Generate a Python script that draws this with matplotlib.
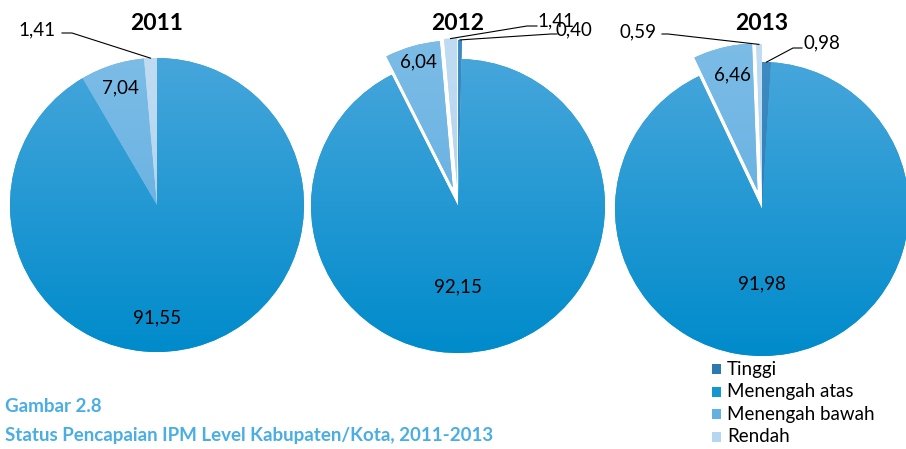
import numpy as np
import matplotlib.pyplot as plt
from matplotlib.colors import LinearSegmentedColormap
from matplotlib.patches import Rectangle

plt.rcParams['font.family'] = ['Lato', 'DejaVu Sans']

years = ['2011', '2012', '2013']
categories = ['Tinggi', 'Menengah atas', 'Menengah bawah', 'Rendah']
tinggi = [0.00, 0.40, 0.98]
menengah_atas = [91.55, 92.15, 91.98]
menengah_bawah = [7.04, 6.04, 6.46]
rendah = [1.41, 1.41, 0.59]

# explode fraction per slice (Tinggi, atas, bawah, rendah)
explode = [[0, 0, 0, 0], [0.13, 0, 0.13, 0.14], [0, 0, 0.13, 0.12]]

# gradient (top, bottom) per category
grad_colors = [('#3D8BC2', '#2474AA'), ('#46A6DB', '#008BCB'),
               ('#7CBCE7', '#5BABDE'), ('#C0DCF2', '#AACFEE')]
legend_colors = ['#2B7BB1', '#1496D1', '#64B0E2', '#B5D6F0']

W, H = 906, 449
fig = plt.figure(figsize=(W / 100, H / 100), dpi=100)
ax = fig.add_axes([0, 0, 1, 1])

# pie centres/radius in pixels (image coords, y down)
centres = [(157, 205), (458, 206), (762, 209)]
big_label_dy = [113, 81, 75]
R = 147


def py(y):
    return H - y


label_fs = 13.5
for i, yr in enumerate(years):
    cx, cy = centres[i]
    vals = [tinggi[i], menengah_atas[i], menengah_bawah[i], rendah[i]]
    wedges, _ = ax.pie(vals, center=(cx, py(cy)), radius=R, startangle=90,
                       counterclock=False, explode=[e * R for e in explode[i]],
                       colors=legend_colors, wedgeprops=dict(linewidth=0))
    for w, (c1, c2) in zip(wedges, grad_colors):
        if w.theta2 - w.theta1 <= 0:
            continue
        cmap = LinearSegmentedColormap.from_list('g', [c1, c2])
        wx, wy = w.center
        im = ax.imshow(np.linspace(0, 1, 256).reshape(-1, 1), cmap=cmap,
                       extent=[wx - R, wx + R, wy - R, wy + R],
                       interpolation='bilinear', zorder=w.get_zorder() + 0.1)
        im.set_clip_path(w)

    ax.text(cx, py(23), yr, ha='center', va='center', fontsize=16.5,
            fontweight='bold')

    def anchor(k):
        w = wedges[k]
        tm = np.deg2rad((w.theta1 + w.theta2) / 2)
        wx, wy = w.center
        return wx + w.r * np.cos(tm), wy + w.r * np.sin(tm)

    def fmt(v):
        return f'{v:.2f}'.replace('.', ',')

    # big slice label
    ax.text(cx, py(cy + big_label_dy[i]), fmt(menengah_atas[i]), ha='center',
            va='center', fontsize=label_fs)

    if i == 0:
        ax.text(cx - 37, py(88), fmt(menengah_bawah[i]), ha='center',
                va='center', fontsize=label_fs)
        ax_, ay_ = anchor(3)
        ax.plot([62, 72, ax_], [py(33), py(33), ay_], color='black', lw=0.8)
        ax.text(56, py(30), fmt(rendah[i]), ha='right', va='center',
                fontsize=label_fs)
    elif i == 1:
        ax.text(cx - 40, py(62), fmt(menengah_bawah[i]), ha='center',
                va='center', fontsize=label_fs)
        ax_, ay_ = anchor(3)
        ax.plot([ax_, 527, 537], [ay_, py(26), py(26)], color='black', lw=0.8)
        ax.text(537, py(21), fmt(rendah[i]), ha='left', va='center',
                fontsize=label_fs)
        ax_, ay_ = anchor(0)
        ax.plot([ax_, 551, 557], [ay_, py(34), py(34)], color='black', lw=0.8)
        ax.text(555, py(30), fmt(tinggi[i]), ha='left', va='center',
                fontsize=label_fs)
    else:
        ax.text(cx - 30, py(75), fmt(menengah_bawah[i]), ha='center',
                va='center', fontsize=label_fs)
        ax_, ay_ = anchor(3)
        ax.plot([662, 668, ax_], [py(34), py(34), ay_], color='black', lw=0.8)
        ax.text(657, py(32), fmt(rendah[i]), ha='right', va='center',
                fontsize=label_fs)
        ax_, ay_ = anchor(0)
        ax.plot([ax_, 793, 802], [ay_, py(48), py(48)], color='black', lw=0.8)
        ax.text(803, py(43), fmt(tinggi[i]), ha='left', va='center',
                fontsize=label_fs)

# legend
for k, cat in enumerate(categories):
    ly = 369 + k * 22.6
    ax.add_patch(Rectangle((712, py(ly) - 5), 9, 10, color=legend_colors[k],
                           lw=0))
    ax.text(727, py(ly), cat, ha='left', va='center', fontsize=13.5)

# caption
cap_color = '#4AAEE4'
ax.text(5, py(406), 'Gambar 2.8', ha='left', va='center', fontsize=13.5,
        fontweight='bold', color=cap_color)
ax.text(5, py(436), 'Status Pencapaian IPM Level Kabupaten/Kota, 2011-2013',
        ha='left', va='center', fontsize=13.5, fontweight='bold',
        color=cap_color)

ax.set_xlim(0, W)
ax.set_ylim(0, H)
ax.set_aspect('auto')
ax.axis('off')

fig.savefig('out.png', dpi=100)
